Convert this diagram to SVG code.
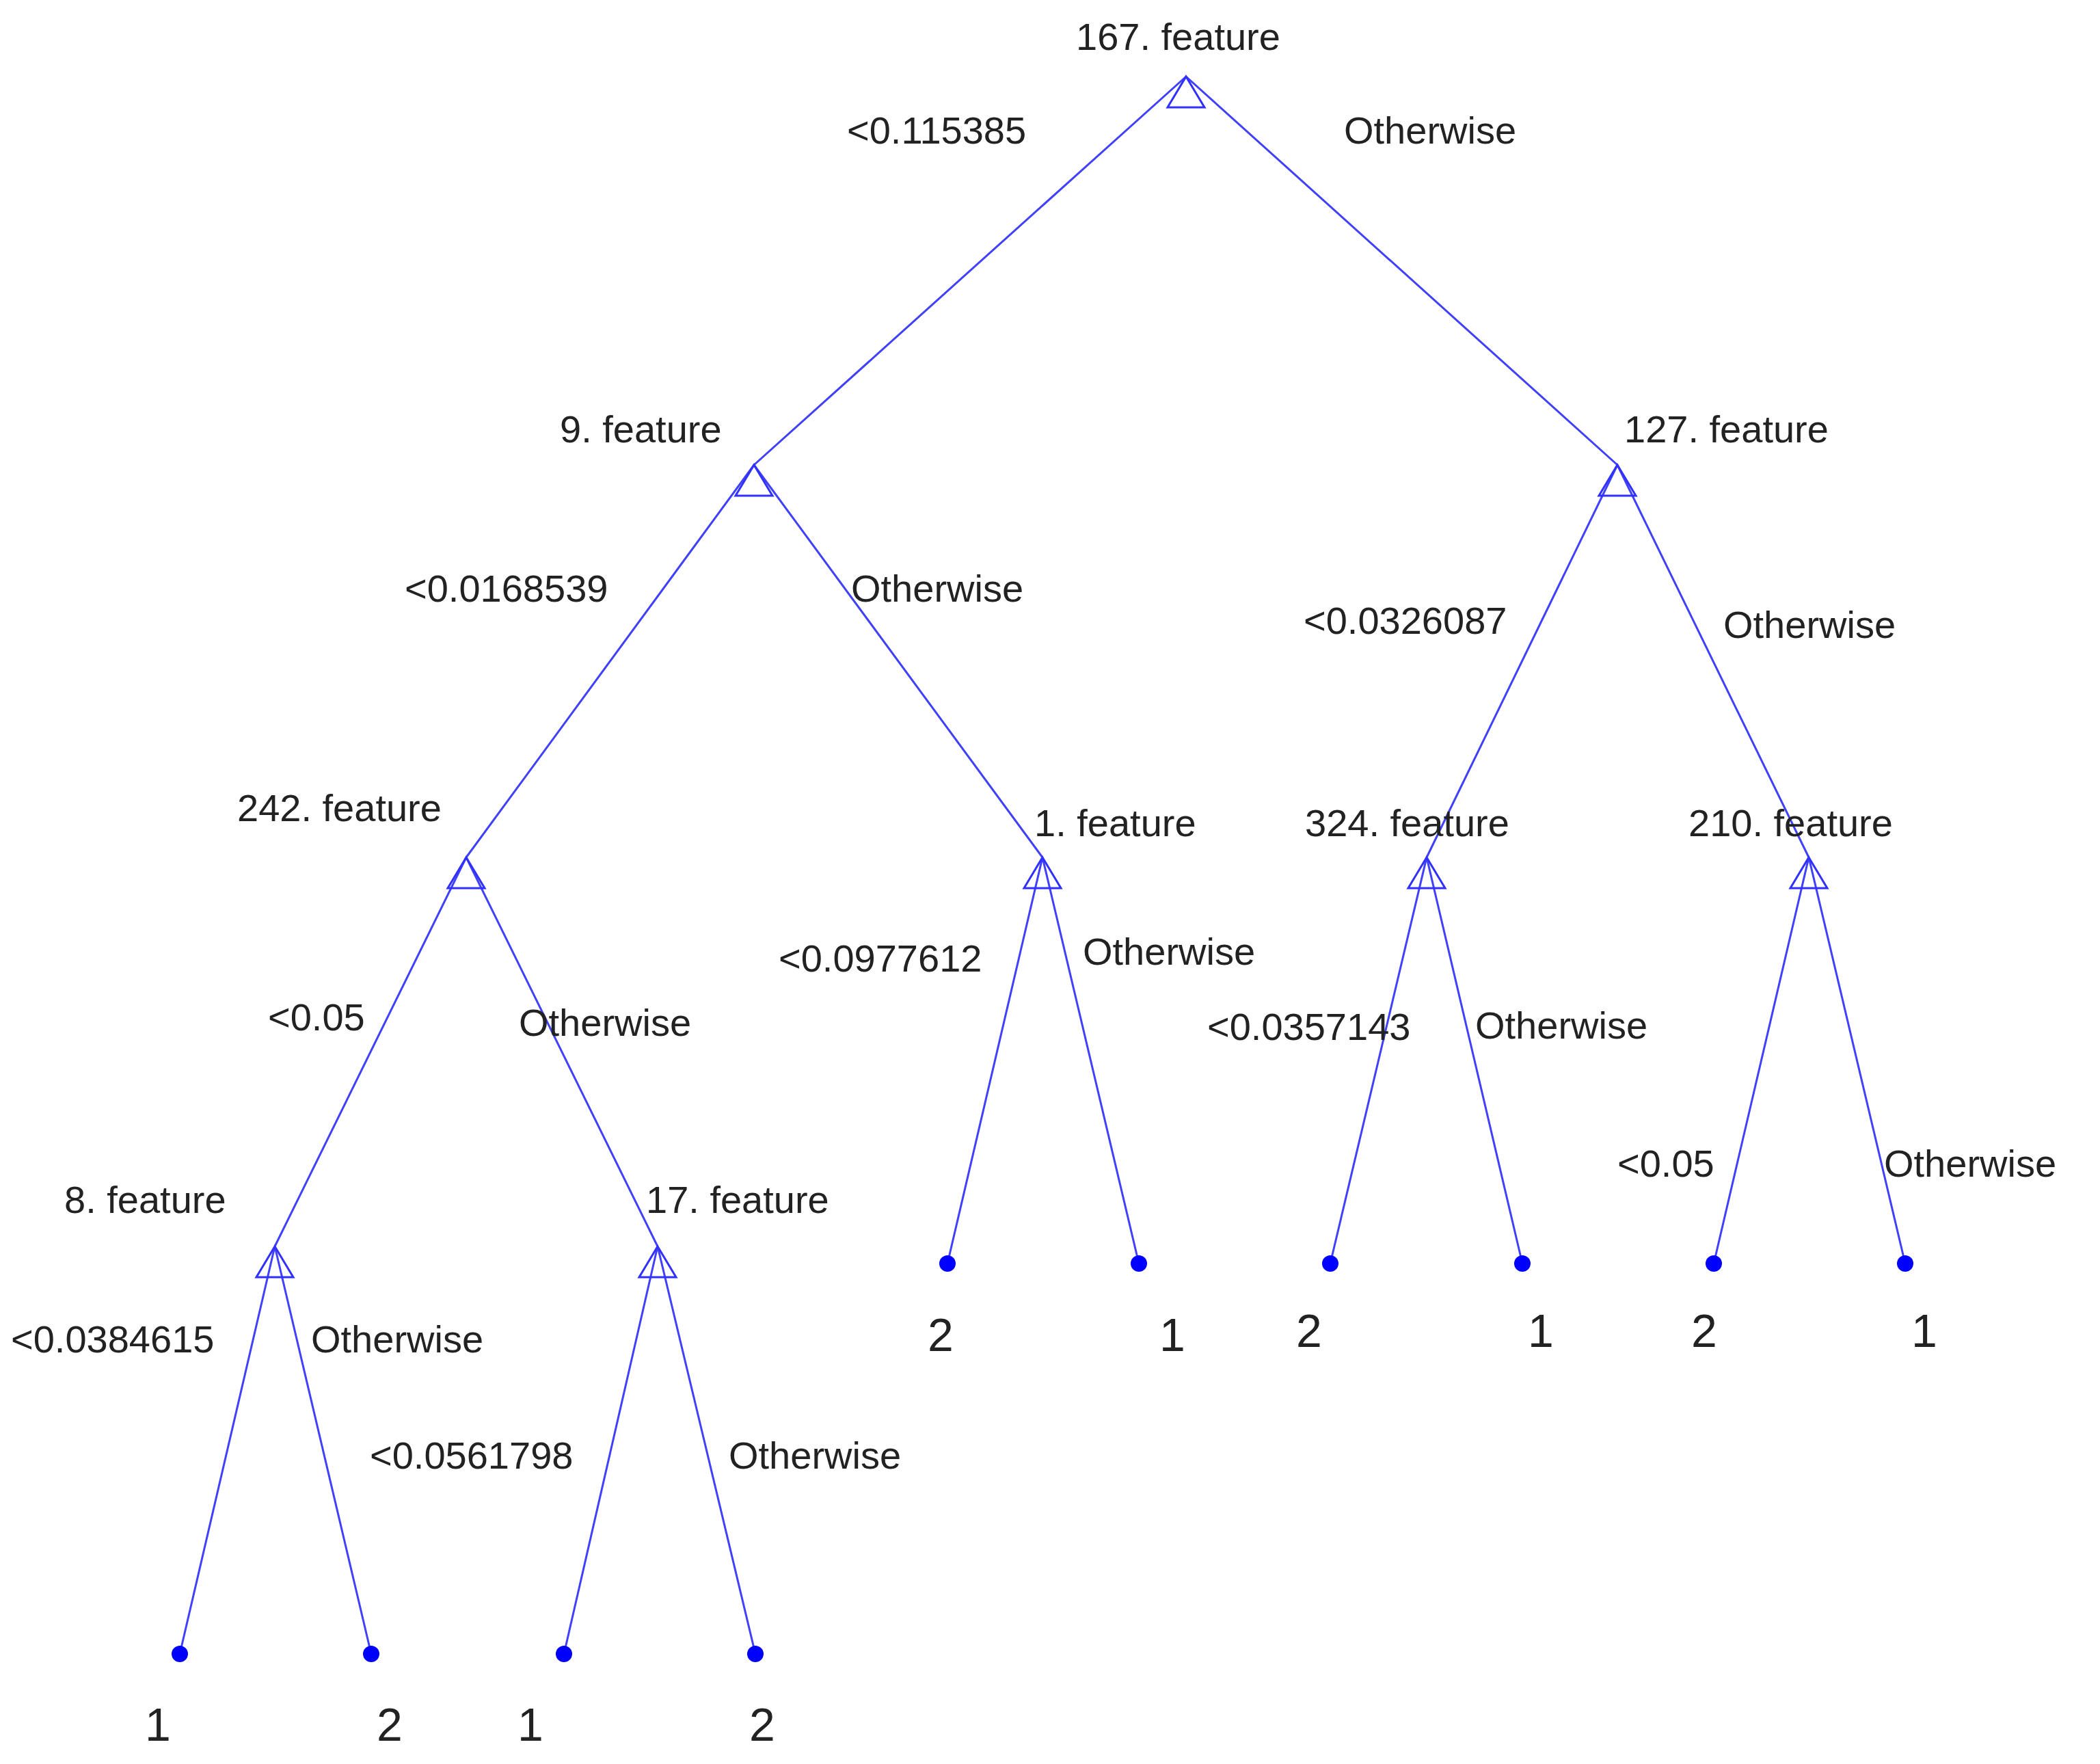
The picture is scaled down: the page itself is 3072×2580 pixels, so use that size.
<svg xmlns="http://www.w3.org/2000/svg" width="3072" height="2580" viewBox="0 0 3072 2580">
<style>
.e{stroke:#4040ff;stroke-width:3;fill:none}
.t{fill:none;stroke:#3030ff;stroke-width:3}
.d{fill:#0000ff}
text{font-family:"Liberation Sans",Arial,sans-serif;font-size:56px;fill:#222}
.n{font-size:68px;text-anchor:middle}
</style>
<rect width="3072" height="2580" fill="#fff"/>
<g id="connectors">
<path class="e" d="M1735 112L1103 680M1735 112L2366 680M1103 680L682 1254M1103 680L1525 1254M2366 680L2087 1254M2366 680L2646 1254M682 1254L402 1823M682 1254L962 1823M1525 1254L1386 1848M1525 1254L1666 1848M2087 1254L1946 1848M2087 1254L2227 1848M2646 1254L2507 1848M2646 1254L2787 1848M402 1823L263 2419M402 1823L543 2419M962 1823L825 2419M962 1823L1105 2419"/>
</g>
<defs><path id="tri" class="t" d="M0 0L27 45L-27 45Z"/></defs>
<g id="n167"><use href="#tri" x="1735" y="112"/><text x="1574" y="73">167. feature</text></g>
<g id="n9"><use href="#tri" x="1103" y="680"/><text x="819" y="647">9. feature</text></g>
<g id="n127"><use href="#tri" x="2366" y="680"/><text x="2376" y="647">127. feature</text></g>
<g id="n242"><use href="#tri" x="682" y="1254"/><text x="347" y="1201">242. feature</text></g>
<g id="n1"><use href="#tri" x="1525" y="1254"/><text x="1513" y="1223">1. feature</text></g>
<g id="n324"><use href="#tri" x="2087" y="1254"/><text x="1909" y="1223">324. feature</text></g>
<g id="n210"><use href="#tri" x="2646" y="1254"/><text x="2470" y="1223">210. feature</text></g>
<g id="n8"><use href="#tri" x="402" y="1823"/><text x="94" y="1774">8. feature</text></g>
<g id="n17"><use href="#tri" x="962" y="1823"/><text x="945" y="1774">17. feature</text></g>
<g id="leaves">
<circle class="d" cx="1386" cy="1848" r="12"/><circle class="d" cx="1666" cy="1848" r="12"/>
<circle class="d" cx="1946" cy="1848" r="12"/><circle class="d" cx="2227" cy="1848" r="12"/>
<circle class="d" cx="2507" cy="1848" r="12"/><circle class="d" cx="2787" cy="1848" r="12"/>
<circle class="d" cx="263" cy="2419" r="12"/><circle class="d" cx="543" cy="2419" r="12"/>
<circle class="d" cx="825" cy="2419" r="12"/><circle class="d" cx="1105" cy="2419" r="12"/>
<text class="n" x="1376" y="1976">2</text><text class="n" x="1715" y="1976">1</text>
<text class="n" x="1915" y="1970">2</text><text class="n" x="2254" y="1970">1</text>
<text class="n" x="2493" y="1970">2</text><text class="n" x="2815" y="1970">1</text>
<text class="n" x="231" y="2546">1</text><text class="n" x="570" y="2546">2</text>
<text class="n" x="776" y="2546">1</text><text class="n" x="1115" y="2546">2</text>
</g>
<g id="labels">
<text x="1239" y="210">&lt;0.115385</text><text x="1966" y="210">Otherwise</text>
<text x="592" y="880">&lt;0.0168539</text><text x="1245" y="880">Otherwise</text>
<text x="1907" y="927">&lt;0.0326087</text><text x="2521" y="933">Otherwise</text>
<text x="1139" y="1421">&lt;0.0977612</text><text x="1584" y="1411">Otherwise</text>
<text x="392" y="1507">&lt;0.05</text><text x="759" y="1515">Otherwise</text>
<text x="1766" y="1521">&lt;0.0357143</text><text x="2158" y="1519">Otherwise</text>
<text x="2366" y="1721">&lt;0.05</text><text x="2756" y="1721">Otherwise</text>
<text x="16" y="1978">&lt;0.0384615</text><text x="455" y="1978">Otherwise</text>
<text x="541" y="2148">&lt;0.0561798</text><text x="1066" y="2148">Otherwise</text>
</g>
</svg>
